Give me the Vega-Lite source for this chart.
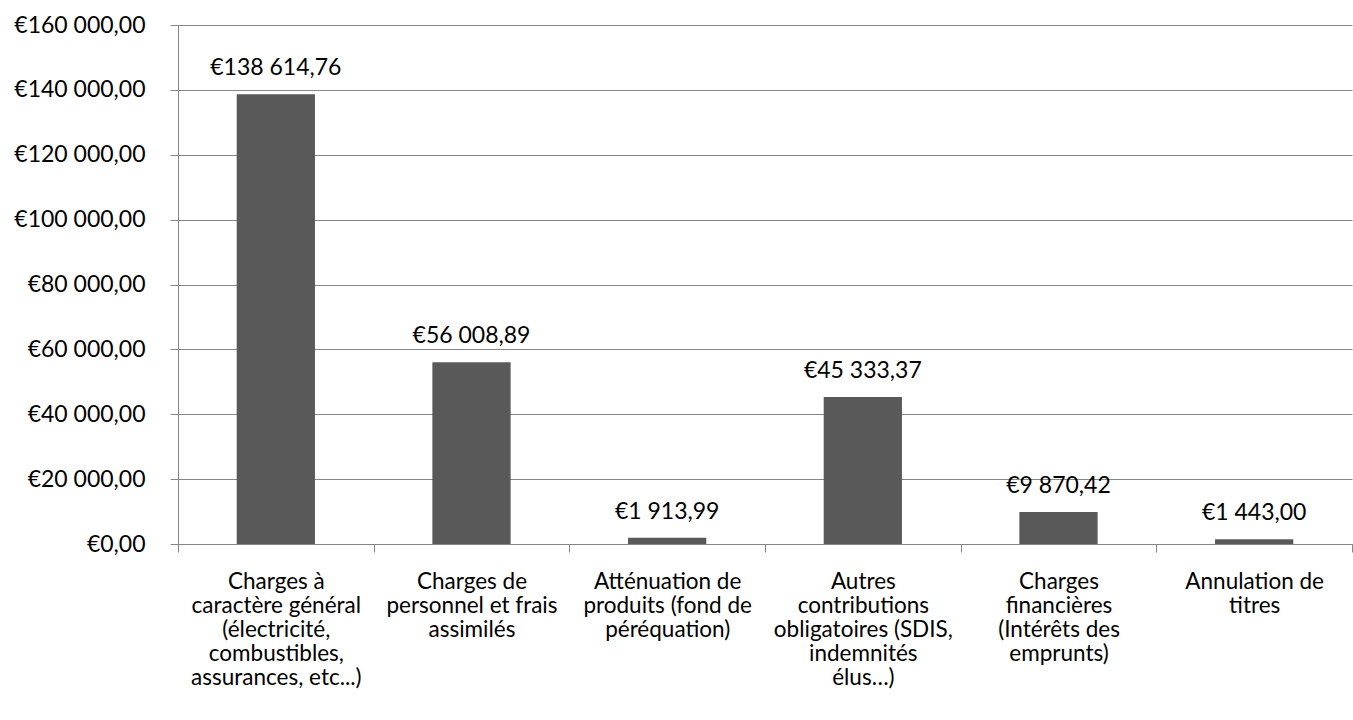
{
  "$schema": "https://vega.github.io/schema/vega-lite/v6.json",
  "autosize": "none",
  "padding": {"left": 178, "top": 25, "right": 1, "bottom": 176},
  "width": 1174,
  "height": 519,
  "background": "white",
  "config": {
    "locale": {
      "number": {"decimal": ",", "thousands": " ", "grouping": [3], "currency": ["€", ""]}
    },
    "font": "Lato",
    "view": {"stroke": null}
  },
  "data": {
    "values": [
      {"categorie": "Charges à|caractère général|(électricité,|combustibles,|assurances, etc...)", "montant": 138614.76},
      {"categorie": "Charges de|personnel et frais|assimilés", "montant": 56008.89},
      {"categorie": "Atténuation de|produits (fond de|péréquation)", "montant": 1913.99},
      {"categorie": "Autres|contributions|obligatoires (SDIS,|indemnités|élus…)", "montant": 45333.37},
      {"categorie": "Charges|financières|(Intérêts des|emprunts)", "montant": 9870.42},
      {"categorie": "Annulation de|titres", "montant": 1443.0}
    ]
  },
  "encoding": {
    "x": {
      "field": "categorie",
      "type": "nominal",
      "sort": null,
      "scale": {"paddingInner": 0, "paddingOuter": 0},
      "axis": {
        "title": null,
        "labelAngle": 0,
        "labelExpr": "isString(datum.value) ? split(datum.value, '|') : ''",
        "labelFontSize": 22.5,
        "labelColor": "#000000",
        "labelLineHeight": 24,
        "labelPadding": 18,
        "labelBaseline": "top",
        "labelLimit": 400,
        "labelOverlap": false,
        "tickBand": "extent",
        "tickSize": 8,
        "tickColor": "#868686",
        "domainColor": "#868686",
        "labelFont": "Lato"
      }
    },
    "y": {
      "field": "montant",
      "type": "quantitative",
      "scale": {"domain": [0, 160000], "nice": false},
      "axis": {
        "title": null,
        "values": [0, 20000, 40000, 60000, 80000, 100000, 120000, 140000, 160000],
        "format": "$,.2f",
        "labelFontSize": 23,
        "labelColor": "#000000",
        "labelPadding": 25,
        "tickSize": 8,
        "tickColor": "#868686",
        "domainColor": "#868686",
        "gridColor": "#868686",
        "grid": true,
        "labelFont": "Lato"
      }
    }
  },
  "layer": [
    {"mark": {"type": "bar", "color": "#595959", "width": {"band": 0.4}}},
    {
      "mark": {"type": "text", "dy": -14, "fontSize": 23, "color": "#000000", "baseline": "bottom", "font": "Lato"},
      "encoding": {
        "text": {"field": "montant", "type": "quantitative", "format": "$,.2f"}
      }
    }
  ]
}
